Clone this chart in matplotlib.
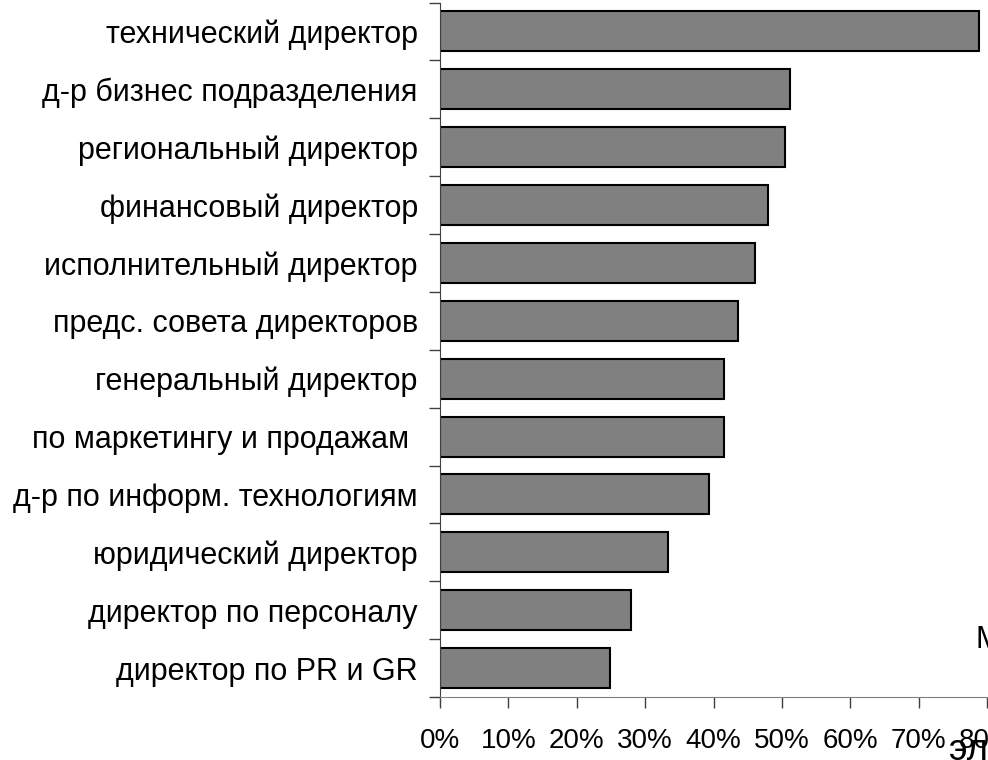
import numpy as np
import matplotlib
matplotlib.use('Agg')
import matplotlib.pyplot as plt
from matplotlib.ticker import PercentFormatter

plt.rcParams['font.family'] = ['Liberation Sans', 'DejaVu Sans']

# positions, top to bottom
roles = ['технический директор', 'д-р бизнес подразделения', 'региональный директор',
         'финансовый директор', 'исполнительный директор', 'предс. совета директоров',
         'генеральный директор', 'по маркетингу и продажам ', 'д-р по информ. технологиям',
         'юридический директор', 'директор по персоналу', 'директор по PR и GR']
share = [0.789, 0.512, 0.504, 0.480, 0.460, 0.436, 0.415, 0.415, 0.393, 0.334, 0.279, 0.249]
xticks = [0, 0.1, 0.2, 0.3, 0.4, 0.5, 0.6, 0.7, 0.8]

fig = plt.figure(figsize=(9.88, 7.60), dpi=100)
ax = fig.add_axes([440/988, 1-697/760, 547/988, 694.5/760])

y = np.arange(len(roles))[::-1]
ax.barh(y, share, height=0.69, color='#808080', edgecolor='black', linewidth=1.5)

ax.set_xlim(0, 0.8)
ax.set_ylim(-0.5, len(roles)-0.5)
ax.set_xticks(xticks)
ax.xaxis.set_major_formatter(PercentFormatter(1.0, decimals=0))
ax.set_yticks(y)
ax.set_yticklabels(roles)
# ticks on y sit between the categories
ax.set_yticks(np.arange(len(roles)+1)-0.5, minor=True)
ax.tick_params(axis='y', which='major', length=0, pad=16, labelsize=22)
ax.tick_params(axis='y', which='minor', length=8, width=1, color='#404040')
ax.tick_params(axis='x', length=8, width=1, color='#404040', pad=14, labelsize=20)

for s in ['top', 'right']:
    ax.spines[s].set_visible(False)
ax.spines['left'].set_color('#404040')
ax.spines['bottom'].set_color('#808080')

fig.text(975/988, 1-640/760, 'М', fontsize=22, va='center', ha='left')
fig.text(949/988, 1-760/760, 'эл', fontsize=26, va='baseline', ha='left')

fig.savefig('out.png', dpi=100)
